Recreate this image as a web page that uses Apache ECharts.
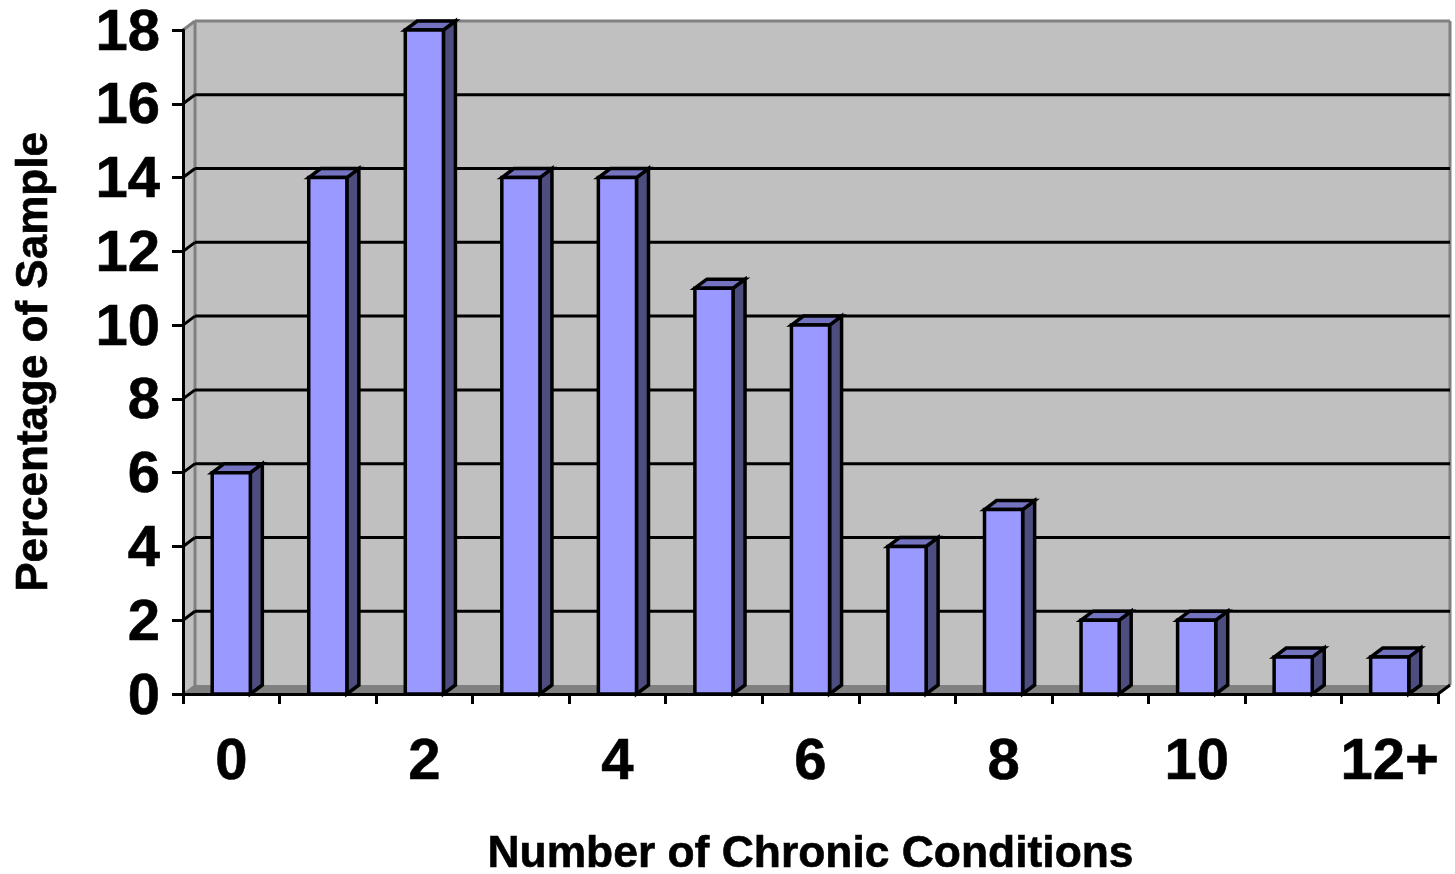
<!DOCTYPE html>
<html>
<head>
<meta charset="utf-8">
<style>html,body{margin:0;padding:0;background:#fff}#c{width:1455px;height:874px}</style>
<script src="https://cdn.jsdelivr.net/npm/echarts@6/dist/echarts.min.js"></script>
</head>
<body>
<div id="c"></div>
<script>
const categories = ["0","1","2","3","4","5","6","7","8","9","10","11","12+"];
const percentages = [6,14,18,14,14,11,10,4,5,2,2,1,1];
const gridValues = [2,4,6,8,10,12,14,16];
const xTitle = "Number of Chronic Conditions";
const yTitle = "Percentage of Sample";

const DX = 12, DY = -9;
const FONT = '"Liberation Sans", Arial, sans-serif';
const chart = echarts.init(document.getElementById('c'), null, {renderer:'canvas'});

function poly(points, fill, stroke, lw){
  return {type:'polygon', shape:{points}, style:{fill, stroke, lineWidth:lw||0, lineJoin:'miter'}};
}
function line(p1,p2,stroke,lw){
  return {type:'line', shape:{x1:p1[0],y1:p1[1],x2:p2[0],y2:p2[1]}, style:{stroke, lineWidth:lw}};
}

chart.setOption({
  animation:false,
  backgroundColor:'#fff',
  grid:{left:183,right:17,top:30,bottom:180,containLabel:false,outerBoundsMode:'none'},
  xAxis:{
    type:'category', data:categories, z:6,
    name:xTitle, nameLocation:'middle', nameGap:139,
    nameTextStyle:{fontFamily:FONT,fontWeight:'bold',fontSize:44.4,color:'#000',textBorderColor:'#000',textBorderWidth:0.6},
    axisLine:{show:true,lineStyle:{color:'#000',width:3}},
    axisTick:{show:true,interval:0,length:10,alignWithLabel:false,lineStyle:{color:'#000',width:3}},
    axisLabel:{interval:1,margin:40,fontFamily:FONT,fontWeight:'bold',fontSize:58,color:'#000',textBorderColor:'#000',textBorderWidth:0.6,hideOverlap:false},
    splitLine:{show:false}
  },
  yAxis:{
    type:'value', min:0, max:18, interval:2, z:6,
    name:yTitle, nameLocation:'middle', nameGap:126,
    nameTextStyle:{fontFamily:FONT,fontWeight:'bold',fontSize:44,color:'#000',textBorderColor:'#000',textBorderWidth:0.6},
    axisLine:{show:true,lineStyle:{color:'#000',width:3}},
    axisTick:{show:true,length:11,lineStyle:{color:'#000',width:3}},
    axisLabel:{
      margin:23, hideOverlap:false,
      formatter:v=>'{a|'+v+'}',
      rich:{a:{padding:[7,0,0,0],fontFamily:FONT,fontWeight:'bold',fontSize:58,color:'#000',textBorderColor:'#000',textBorderWidth:0.6}}
    },
    splitLine:{show:false}
  },
  series:[
    { // walls and floor
      type:'custom', z:1, silent:true, data:[[0,0]], encode:{x:0,y:1},
      renderItem(params, api){
        const c = params.coordSys;
        const L=c.x, R=c.x+c.width, T=c.y, B=c.y+c.height;
        return {type:'group',children:[
          poly([[L,B],[L+DX,B+DY],[L+DX,T+DY],[L,T]],'#C0C0C0'),
          poly([[L+DX,B+DY],[R+DX,B+DY],[R+DX,T+DY],[L+DX,T+DY]],'#C0C0C0'),
          poly([[L,B],[R,B],[R+DX,B+DY],[L+DX,B+DY]],'#808080'),
          line([L,T],[L+DX,T+DY],'#808080',3),
          line([L+DX,T+DY],[R+DX,T+DY],'#808080',3),
          line([L+DX,T+DY],[L+DX,B+DY],'#808080',3),
          line([R+DX,T+DY],[R+DX,B+DY],'#808080',3),
          line([L,B],[L+DX,B+DY],'#808080',1.5),
          line([R,B],[R+DX,B+DY],'#000',3)
        ]};
      }
    },
    { // gridlines on side and back wall
      type:'custom', z:2, silent:true,
      data:gridValues.map(v=>[0,v]), encode:{x:0,y:1},
      renderItem(params, api){
        const c = params.coordSys;
        const y = api.coord([0, api.value(1)])[1];
        return {type:'group',children:[
          line([c.x,y],[c.x+DX,y+DY],'#000',3),
          line([c.x+DX,y+DY],[c.x+c.width+DX,y+DY],'#000',3)
        ]};
      }
    },
    { // 3D bars
      type:'custom', z:3, silent:true,
      data:percentages.map((v,i)=>[i,v]), encode:{x:0,y:1},
      renderItem(params, api){
        const top = api.coord([api.value(0), api.value(1)]);
        const base = api.coord([api.value(0), 0]);
        const w = api.size([1,0])[0]*0.395;
        const l = top[0]-w/2, r = top[0]+w/2, t = top[1], b = base[1];
        return {type:'group',children:[
          poly([[r,t],[r+DX,t+DY],[r+DX,b+DY],[r,b]],'#4D4D80','#000',3.5),
          poly([[l,t],[l+DX,t+DY],[r+DX,t+DY],[r,t]],'#7373BF','#000',3.5),
          poly([[l,t],[r,t],[r,b],[l,b]],'#9999FF','#000',3.5)
        ]};
      }
    }
  ]
});
</script>
</body>
</html>
